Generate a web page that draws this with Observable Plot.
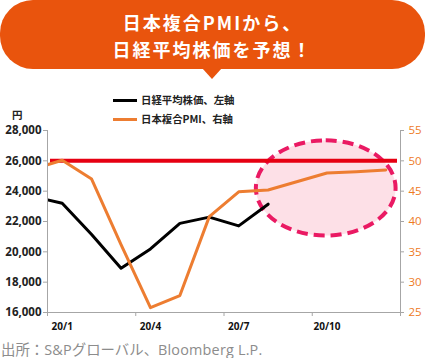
<!DOCTYPE html>
<html><head><meta charset="utf-8">
<script src="https://cdn.jsdelivr.net/npm/d3@7"></script>
<script src="https://cdn.jsdelivr.net/npm/@observablehq/plot@0.6"></script>
<style>
html,body{margin:0;padding:0;background:#fff;}
#wrap{position:relative;width:425px;height:358px;overflow:hidden;font-family:"Noto Sans CJK JP","Noto Sans",sans-serif;}
#banner{position:absolute;left:0;top:0;width:425px;height:69px;border-radius:33px;background:#e9540d;color:#fff;
 font-weight:700;font-size:18px;letter-spacing:2px;text-align:center;line-height:27px;box-sizing:border-box;padding-top:9px;}
#pointer{position:absolute;left:202px;top:68px;width:0;height:0;border-left:10px solid transparent;border-right:10px solid transparent;border-top:11px solid #e9540d;}
#chart{position:absolute;left:0;top:88px;}
.leg{position:absolute;font-size:10.4px;font-weight:700;color:#222;line-height:14px;white-space:nowrap;}
.sw{position:absolute;width:24px;height:3px;}
#yen{position:absolute;left:12px;top:110px;font-size:10.5px;line-height:10px;height:10px;font-weight:700;color:#222;}
#src{position:absolute;left:1px;top:340px;font-size:14.4px;color:#8c8c8c;line-height:18px;white-space:nowrap;}
#src .lat{font-family:"Open Sans",sans-serif;letter-spacing:0.2px;}
</style></head><body>
<div id="wrap">
 <div id="banner"><div>日本複合PMIから、</div><div>日経平均株価を予想！</div></div>
 <div id="pointer"></div>
 <div id="chart"></div>
 <div class="sw" style="left:113px;top:99px;background:#000"></div>
 <div class="leg" style="left:141px;top:93px">日経平均株価、左軸</div>
 <div class="sw" style="left:113px;top:118px;background:#ed7d31"></div>
 <div class="leg" style="left:141px;top:112px">日本複合PMI、右軸</div>
 <div id="yen">円</div>
 <div id="src">出所：<span class="lat">S&amp;P</span>グローバル、<span class="lat">Bloomberg L.P.</span></div>
</div>
<script>
// month index: 0 = 2019/12, 1 = 2020/1 ... 12 = 2020/12
const nikkeiMonths = [0, 1, 2, 3, 4, 5, 6, 7, 8];
const nikkeiValues = [23657, 23205, 21143, 18917, 20194, 21878, 22288, 21710, 23140];
const pmiMonths = [0, 1, 2, 3, 4, 5, 6, 7, 8, 9, 10, 11, 12];
const pmiValues = [48.6, 50.1, 47.0, 36.2, 25.8, 27.8, 40.8, 44.9, 45.2, 46.6, 48.0, 48.2, 48.5];
const xDomain = [0.5, 12.5];
const quarterEdges = [0.5, 3.5, 6.5, 9.5, 12.5];
const quarterStarts = [1, 4, 7, 10];
const quarterLabels = ["20/1", "20/4", "20/7", "20/10"];
const yenDomain = [16000, 28000];
const yenTicks = [16000, 18000, 20000, 22000, 24000, 26000, 28000];
const pmiDomain = [25, 55];
const pmiTicks = [25, 30, 35, 40, 45, 50, 55];
const pmiThreshold = [50];
// forecast highlight ellipse: months and PMI extent
const forecastMonths = [7.6, 12.35];
const forecastPmi = [37.6, 53.3];

const toYen = d3.scaleLinear().domain(pmiDomain).range(yenDomain);
const toPmi = toYen.invert;

const nikkei = nikkeiMonths.map((m, i) => ({m, v: nikkeiValues[i]}));
const pmi = pmiMonths.map((m, i) => ({m, v: toYen(pmiValues[i])}));

const gray = "#a6a6a6";
const orange = "#ed7d31";
const numFont = "'Open Sans', 'Noto Sans', sans-serif";

const chart = Plot.plot({
  width: 425, height: 250,
  marginTop: 42, marginBottom: 26, marginLeft: 47, marginRight: 25,
  x: {type: "linear", domain: xDomain, axis: null, label: null},
  y: {domain: yenDomain, axis: null, label: null},
  style: {background: "transparent", overflow: "visible"},
  marks: [
    Plot.rect([0], {x1: forecastMonths[0], x2: forecastMonths[1], y1: toYen(forecastPmi[0]), y2: toYen(forecastPmi[1]),
      rx: 500, ry: 500, fill: "#fde0e7", stroke: "#ea1a63", strokeWidth: 4, strokeDasharray: "11,6"}),
    Plot.ruleY(pmiThreshold.map(toYen), {stroke: "#e60012", strokeWidth: 4, insetLeft: 3, insetRight: 3}),
    Plot.line(nikkei, {x: "m", y: "v", stroke: "#000", strokeWidth: 3, strokeLinejoin: "round", clip: true}),
    Plot.line(pmi, {x: "m", y: "v", stroke: orange, strokeWidth: 3, strokeLinejoin: "round", clip: true}),
    Plot.ruleX([xDomain[0], xDomain[1]], {stroke: gray}),
    Plot.ruleY([yenDomain[0]], {stroke: gray, x1: xDomain[0], x2: xDomain[1]}),
    Plot.axisY(yenTicks, {anchor: "left", label: null, tickSize: 4, tickPadding: 2, tickFormat: d3.format(","), stroke: gray, fill: "#222",
      fontSize: 11.5, fontWeight: 700, fontFamily: numFont}),
    Plot.axisY(pmiTicks.map(toYen), {anchor: "right", label: null, tickSize: 3, tickPadding: 5, tickFormat: d => String(Math.round(toPmi(d))),
      stroke: gray, fill: "#ee7a1f", fontSize: 11.5, fontFamily: numFont}),
    Plot.axisX(quarterEdges, {anchor: "bottom", label: null, tickSize: 4, tickFormat: () => "", stroke: gray}),
    Plot.axisX(quarterStarts, {anchor: "bottom", label: null, tickSize: 0, tickPadding: 10, tickFormat: (d) => quarterLabels[quarterStarts.indexOf(d)],
      fill: "#111", fontSize: 10, fontWeight: 700, fontFamily: numFont})
  ]
});
document.getElementById("chart").appendChild(chart);
</script>
</body></html>
